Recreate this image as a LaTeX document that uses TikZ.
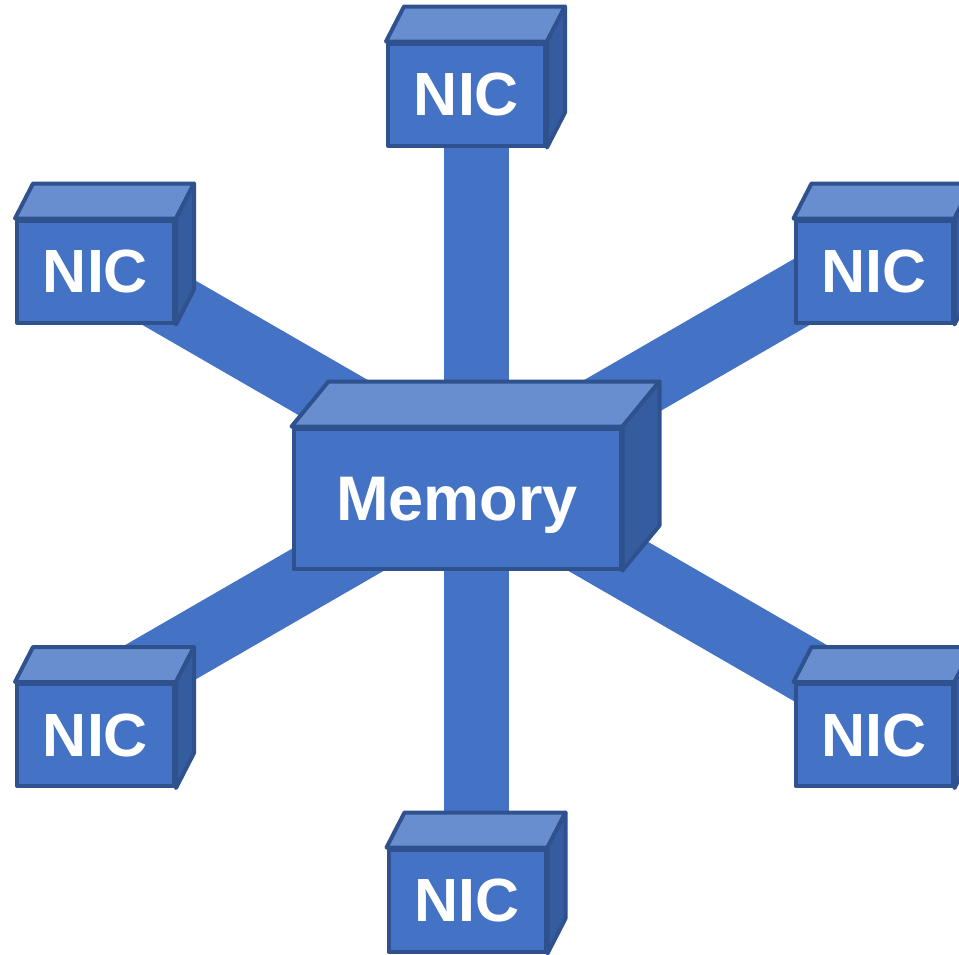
\documentclass[tikz,border=0pt]{standalone}
\usepackage{fontspec}
\setmainfont{Liberation Sans}
\usepackage{tikz}
\usetikzlibrary{calc,backgrounds}

\definecolor{boxfront}{HTML}{4472C4}
\definecolor{boxtop}{HTML}{698ED0}
\definecolor{boxside}{HTML}{355C9E}
\definecolor{boxline}{HTML}{2F528F}

\tikzset{
	front/.style={draw=boxline, fill=boxfront, line width=2pt, line join=round, text=white, inner sep=0pt, text depth=0pt},
	nic/.style={front, minimum width=78.5pt, minimum height=51pt, font=\bfseries\fontsize{30.5}{30.5}\selectfont},
	mem/.style={front, minimum width=163.5pt, minimum height=70pt, font=\bfseries\fontsize{31.5}{31.5}\selectfont},
	topface/.style={draw=boxline, fill=boxtop, line width=2pt, line join=round},
	sideface/.style={draw=boxline, fill=boxside, line width=2pt, line join=round},
	link/.style={draw=boxfront, line width=32.5pt},
}

\begin{document}
\begin{tikzpicture}[x=0.5pt,y=-0.5pt]
		\useasboundingbox (0,0) rectangle (959,954);
		\node[mem] (memory) at (457,498.5) {Memory};
		\node[nic] (nic1) at (466.5,94.5) {NIC};
		\node[nic] (nic2) at (95.5,271.5) {NIC};
		\node[nic] (nic3) at (874,271.5) {NIC};
		\node[nic] (nic4) at (95.5,735) {NIC};
		\node[nic] (nic5) at (874,735) {NIC};
		\node[nic] (nic6) at (467,900.5) {NIC};
		\coordinate (hub) at (476,480);
		% depth faces of the boxes
		\draw[topface] (memory.north west) -- ++(37,-45) -- ($(memory.north east)+(37,-45)$) -- (memory.north east) -- cycle;
		\draw[sideface] (memory.north east) -- ++(37,-45) -- ($(memory.south east)+(37,-45)$) -- (memory.south east) -- cycle;
		\foreach \i in {1,...,6} {
			\draw[topface] (nic\i.north west) -- ++(18,-35) -- ($(nic\i.north east)+(18,-35)$) -- (nic\i.north east) -- cycle;
			\draw[sideface] (nic\i.north east) -- ++(18,-35) -- ($(nic\i.south east)+(18,-35)$) -- (nic\i.south east) -- cycle;
		}
		% links behind the boxes, every 60 degrees round the hub
		\begin{scope}[on background layer]
			\foreach \i/\a in {1/270,2/210,3/330,4/150,5/30,6/90} {
				\path (hub) ++(\a:100) coordinate (dir\i);
				\draw[link] (hub) -- ($(hub)!(nic\i.center)!(dir\i)$);
			}
		\end{scope}
	\end{tikzpicture}
\end{document}
